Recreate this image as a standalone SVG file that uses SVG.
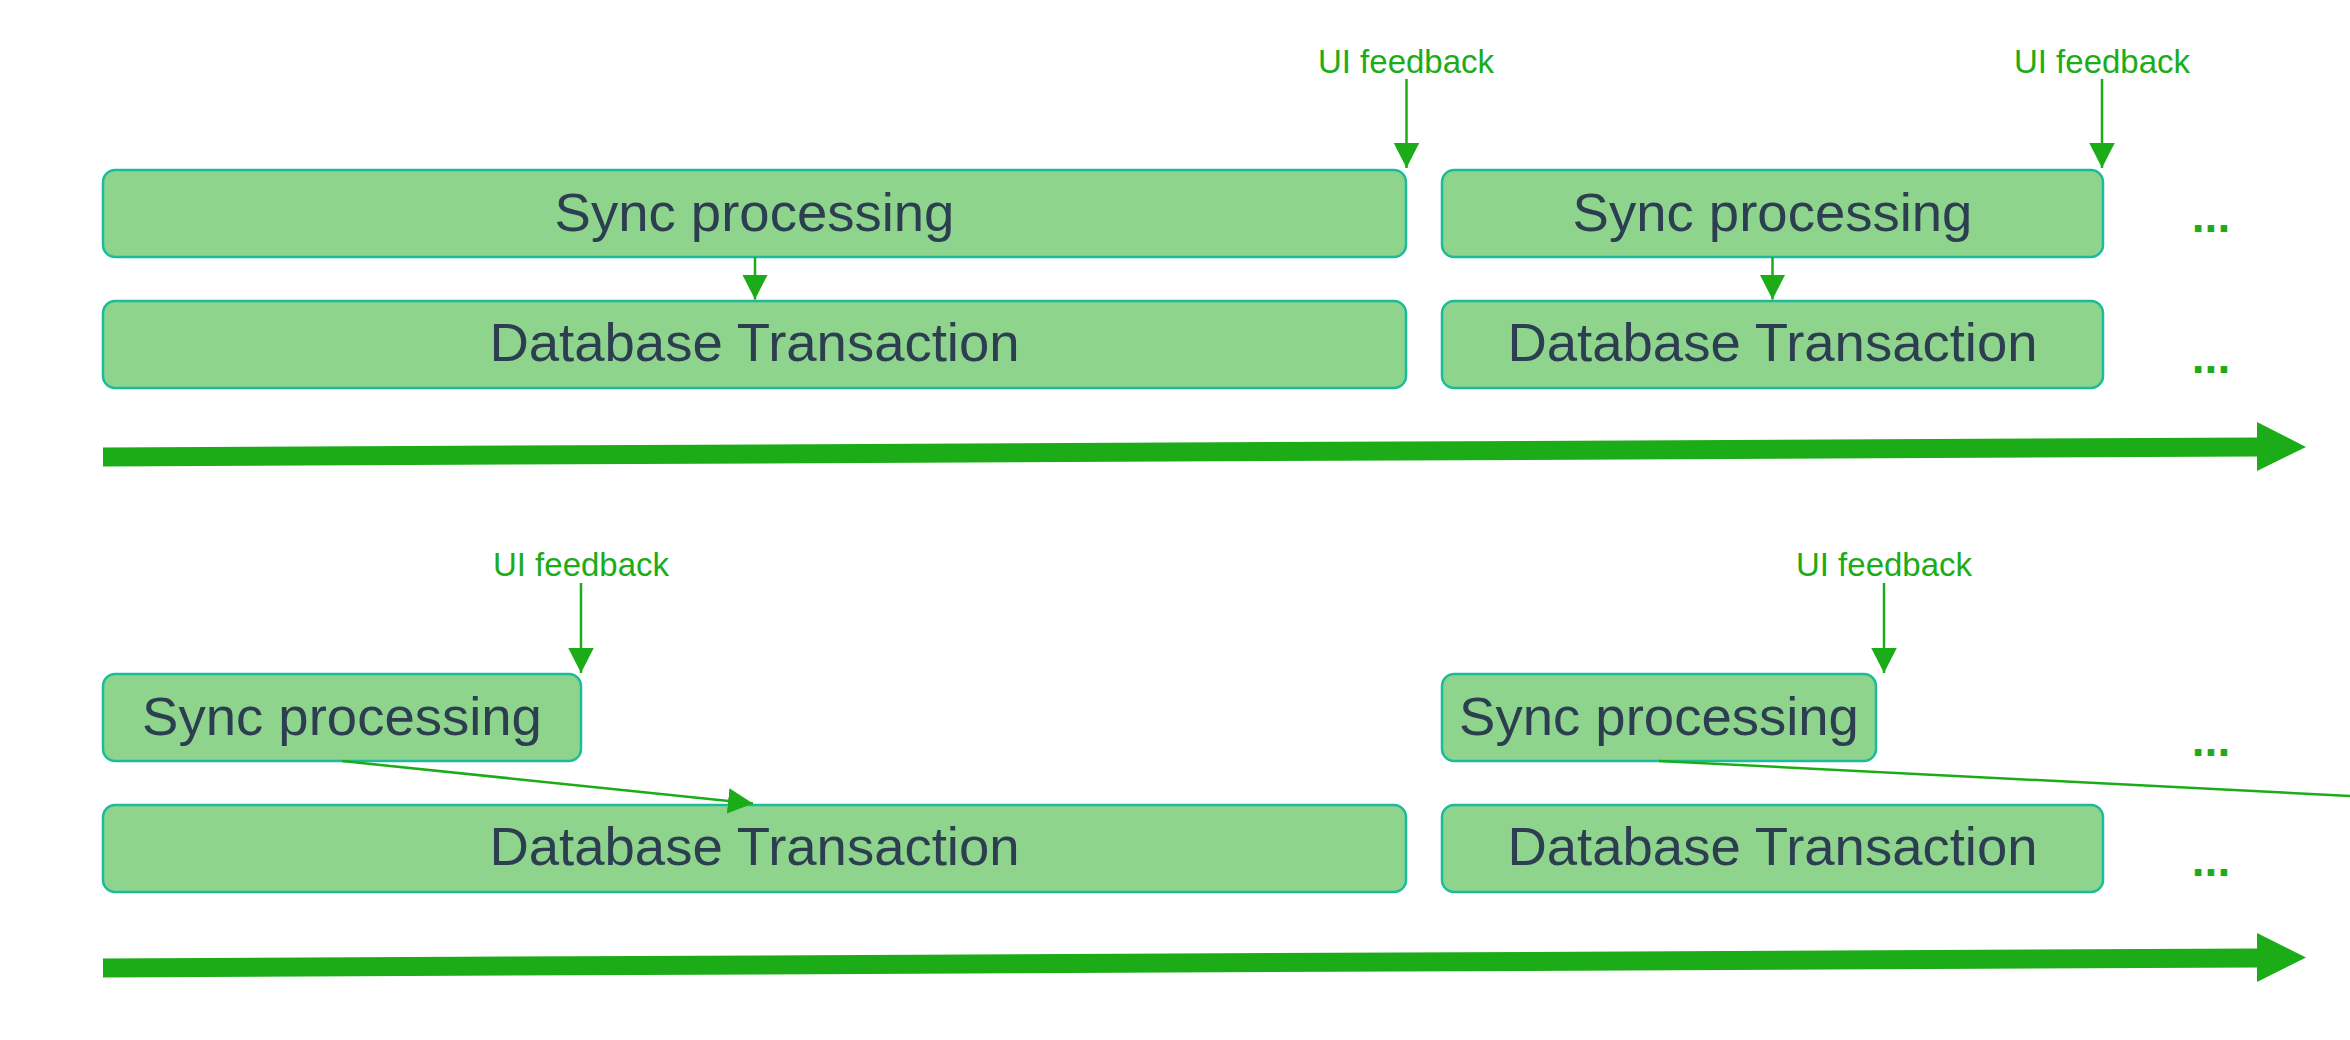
<svg xmlns="http://www.w3.org/2000/svg" width="2350" height="1040" viewBox="0 0 2350 1040">
<style>
.box{fill:#8ed48c;stroke:#1abc9c;stroke-width:2.5}
.lbl{font-family:"Liberation Sans",Arial,sans-serif;font-size:54.5px;fill:#2c3e50;text-anchor:middle}
.ui{font-family:"Liberation Sans",Arial,sans-serif;font-size:33px;fill:#1cac18;text-anchor:middle}
.dots{font-family:"Liberation Sans",Arial,sans-serif;font-size:46px;font-weight:bold;fill:#1cac18;text-anchor:middle}
.conn{stroke:#1cac18;stroke-width:2.5;fill:none}
.big{stroke:#1cac18;stroke-width:19;fill:none}
.head{fill:#1cac18}
</style>
<defs>
<marker id="arr" markerUnits="userSpaceOnUse" markerWidth="26" markerHeight="26" refX="25" refY="12.75" orient="auto" viewBox="0 0 26 26">
<path d="M0,0 L25,12.75 L0,25.5 z" fill="#1cac18"/>
</marker>
</defs>
<rect width="2350" height="1040" fill="#ffffff"/>

<g id="sync1"><rect class="box" x="103" y="170" width="1303" height="87" rx="12"/><text class="lbl" x="754.5" y="231">Sync processing</text></g>
<g id="db1"><rect class="box" x="103" y="301" width="1303" height="87" rx="12"/><text class="lbl" x="754.5" y="361">Database Transaction</text></g>
<g id="sync2"><rect class="box" x="1442" y="170" width="661" height="87" rx="12"/><text class="lbl" x="1772.5" y="231">Sync processing</text></g>
<g id="db2"><rect class="box" x="1442" y="301" width="661" height="87" rx="12"/><text class="lbl" x="1772.5" y="361">Database Transaction</text></g>

<g id="sync3"><rect class="box" x="103" y="674" width="478" height="87" rx="12"/><text class="lbl" x="342" y="735">Sync processing</text></g>
<g id="db3"><rect class="box" x="103" y="805" width="1303" height="87" rx="12"/><text class="lbl" x="754.5" y="865">Database Transaction</text></g>
<g id="sync4"><rect class="box" x="1442" y="674" width="434" height="87" rx="12"/><text class="lbl" x="1659" y="735">Sync processing</text></g>
<g id="db4"><rect class="box" x="1442" y="805" width="661" height="87" rx="12"/><text class="lbl" x="1772.5" y="865">Database Transaction</text></g>

<g id="ui1"><text class="ui" x="1406" y="73">UI feedback</text></g>
<g id="ui2"><text class="ui" x="2102" y="73">UI feedback</text></g>
<g id="ui3"><text class="ui" x="581" y="576">UI feedback</text></g>
<g id="ui4"><text class="ui" x="1884" y="576">UI feedback</text></g>

<g id="ellipses">
<text class="dots" x="2211" y="232">...</text>
<text class="dots" x="2211" y="373">...</text>
<text class="dots" x="2211" y="756">...</text>
<text class="dots" x="2211" y="876">...</text>
</g>

<g id="connectors">
<line class="conn" x1="1406.5" y1="79" x2="1406.5" y2="168" marker-end="url(#arr)"/>
<line class="conn" x1="2102" y1="79" x2="2102" y2="168" marker-end="url(#arr)"/>
<line class="conn" x1="755" y1="257" x2="755" y2="299.5" marker-end="url(#arr)"/>
<line class="conn" x1="1772.5" y1="257" x2="1772.5" y2="299.5" marker-end="url(#arr)"/>
<line class="conn" x1="581" y1="583" x2="581" y2="673" marker-end="url(#arr)"/>
<line class="conn" x1="1884" y1="583" x2="1884" y2="673" marker-end="url(#arr)"/>
<line class="conn" x1="342" y1="761" x2="753" y2="803.5" marker-end="url(#arr)"/>
<line class="conn" x1="1659" y1="761" x2="2450" y2="801" marker-end="url(#arr)"/>
<line class="big" x1="103" y1="457" x2="2258" y2="447"/>
<polygon class="head" points="2257,422 2306,447 2257,471"/>
<line class="big" x1="103" y1="968" x2="2258" y2="958"/>
<polygon class="head" points="2257,933 2306,957.5 2257,982"/>
</g>
</svg>
